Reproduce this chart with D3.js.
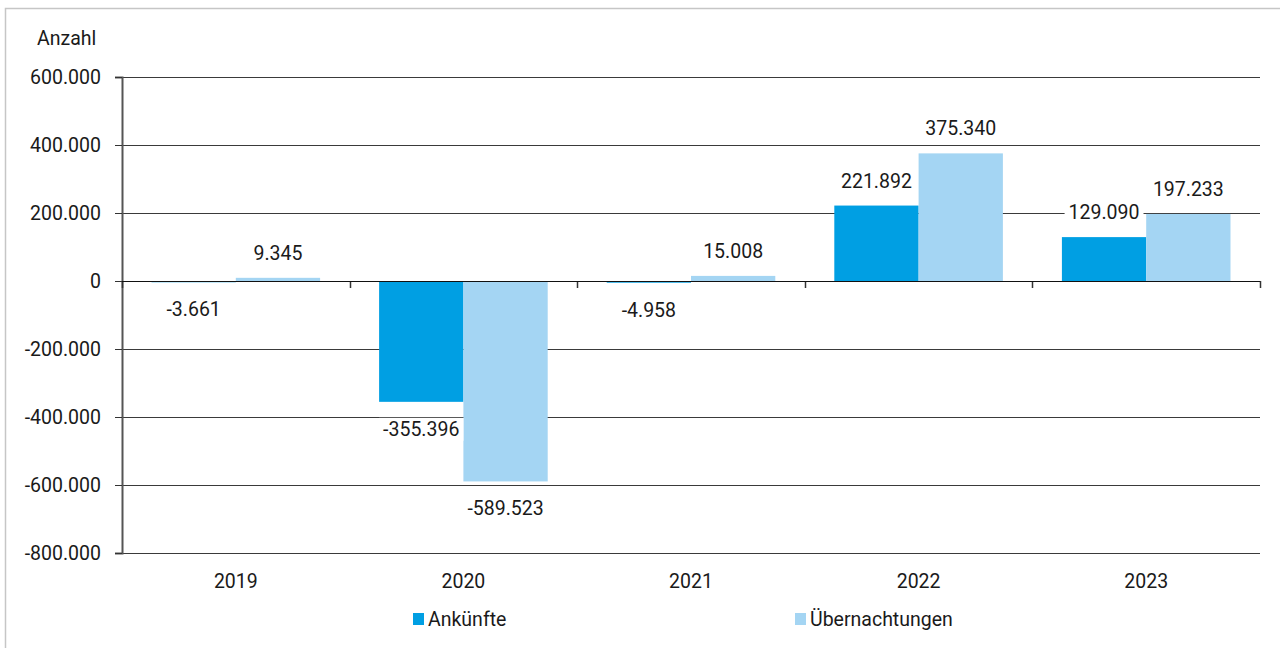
<!DOCTYPE html>
<html><head><meta charset="utf-8">
<script src="https://cdn.jsdelivr.net/npm/d3@7"></script>
<style>
html,body{margin:0;padding:0;background:#fff;}
svg{display:block;}
text{font-family:Roboto,"Open Sans",sans-serif;fill:#1a1a1a;}
</style></head>
<body>
<svg id="chart" width="1280" height="648"></svg>
<script>
const years = ["2019","2020","2021","2022","2023"];
const seriesNames = ["Ankünfte","Übernachtungen"];
const ankuenfte = [-3661,-355396,-4958,221892,129090];
const uebernachtungen = [9345,-589523,15008,375340,197233];
const yTicks = [600000,400000,200000,0,-200000,-400000,-600000,-800000];
const yAxisTitle = "Anzahl";

const colors = ["#009FE3","#A4D5F3"];
const FS = "19.5px";
const svg = d3.select("#chart");
const W = 1280, H = 648;
const m = {left:122, right:1260, top:77, bottom:553};

// frame
svg.append("path").attr("d",`M5.5,${H+5} V8.5 H${W+5}`).attr("fill","none").attr("stroke","#c6c6c6").attr("stroke-width",1.5);

const y = d3.scaleLinear().domain([-800000,600000]).range([m.bottom,m.top]);
const x0 = d3.scaleBand().domain(years).range([m.left,m.right]).padding(0);
const x1 = d3.scaleBand().domain(seriesNames).range([0,x0.bandwidth()]).paddingInner(0).paddingOuter(0.35);

const fmt = v => {
  const s = Math.abs(v).toString().replace(/\B(?=(\d{3})+(?!\d))/g,".");
  return (v<0?"-":"")+s;
};

// gridlines
svg.append("g").selectAll("line").data(yTicks).join("line")
  .attr("x1",m.left).attr("x2",m.right)
  .attr("y1",d=>Math.round(y(d))+0.5).attr("y2",d=>Math.round(y(d))+0.5)
  .attr("stroke",d=>d===0?"#111":"#3a3a3a").attr("stroke-width",1);

// y axis
const yAxis = d3.axisLeft(y).tickValues(yTicks).tickSize(7).tickPadding(14).tickFormat(fmt);
const gy = svg.append("g").attr("transform",`translate(${m.left},0)`).call(yAxis);
gy.select(".domain").attr("stroke","#555").attr("stroke-width",2);
gy.selectAll(".tick line").attr("stroke","#333");
gy.selectAll(".tick text").style("font-family",'Roboto,"Open Sans",sans-serif').style("font-size",FS).attr("fill","#1a1a1a");

svg.append("text").attr("x",37).attr("y",45).style("font-size",FS).text(yAxisTitle);

// bars
const rows = years.map((yr,i)=>({year:yr, vals:[ankuenfte[i],uebernachtungen[i]]}));
const groups = svg.append("g").selectAll("g").data(rows).join("g")
  .attr("transform",d=>`translate(${x0(d.year)},0)`);
groups.selectAll("rect").data(d=>d.vals.map((v,j)=>({v,s:seriesNames[j],j}))).join("rect")
  .attr("x",d=>x1(d.s)).attr("width",x1.bandwidth())
  .attr("y",d=>y(Math.max(0,d.v))).attr("height",d=>Math.abs(y(d.v)-y(0)))
  .attr("fill",d=>colors[d.j]);

// category axis at zero with boundary ticks downward
const bounds = years.map(yr=>x0(yr)).concat([m.right]);
svg.append("g").selectAll("line").data(bounds).join("line")
  .attr("x1",d=>Math.round(d)+0.5).attr("x2",d=>Math.round(d)+0.5)
  .attr("y1",Math.round(y(0))).attr("y2",Math.round(y(0))+7)
  .attr("stroke","#333").attr("stroke-width",1.5);
svg.append("line").attr("x1",m.left).attr("x2",m.right)
  .attr("y1",Math.round(y(0))+0.5).attr("y2",Math.round(y(0))+0.5).attr("stroke","#111");

// category labels
svg.append("g").selectAll("text").data(years).join("text")
  .attr("x",d=>x0(d)+x0.bandwidth()/2).attr("y",588)
  .attr("text-anchor","middle").style("font-size",FS).text(d=>d);

// value labels with white background
const labels = svg.append("g");
rows.forEach(r=>{
  r.vals.forEach((v,j)=>{
    const cx = x0(r.year)+x1(seriesNames[j])+x1.bandwidth()/2;
    const by = v>=0 ? y(v)-18 : y(v)+34;
    const g = labels.append("g");
    const t = g.append("text").attr("x",cx).attr("y",by).attr("text-anchor","middle")
      .style("font-size",FS).text(fmt(v));
    const bb = t.node().getBBox();
    g.insert("rect","text").attr("x",bb.x-4).attr("y",bb.y).attr("width",bb.width+8).attr("height",bb.height).attr("fill","#fff");
  });
});

// legend
const legX = [413,795];
const leg = svg.append("g").selectAll("g").data(seriesNames).join("g")
  .attr("transform",(d,i)=>`translate(${legX[i]},613)`);
leg.append("rect").attr("width",11).attr("height",12).attr("fill",(d,i)=>colors[i]);
leg.append("text").attr("x",15).attr("y",13).style("font-size",FS).text(d=>d);
</script>
</body></html>
